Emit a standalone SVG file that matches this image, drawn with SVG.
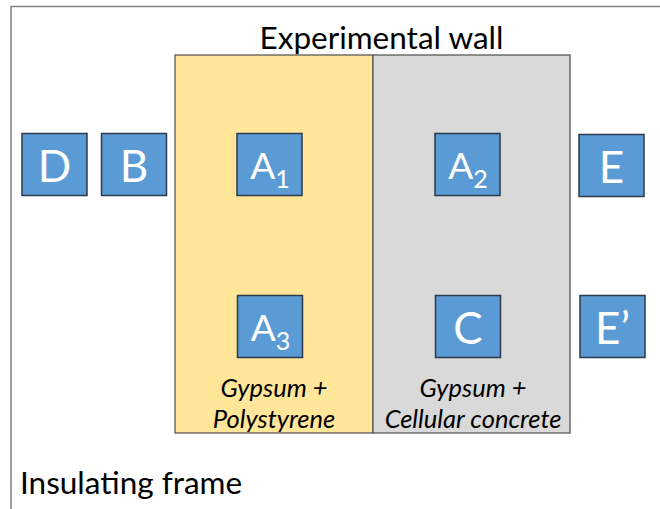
<svg xmlns="http://www.w3.org/2000/svg" width="660" height="509" viewBox="0 0 660 509">
<style>
.frame{fill:none;stroke:#7f7f7f;stroke-width:1.5}
.wall{stroke:#595959;stroke-width:1.3}
.box{fill:#5B9BD5;stroke:#2B3A4C;stroke-width:1.5}
.lbl{font-family:Lato,"Liberation Sans",sans-serif;fill:#ffffff;text-anchor:middle}
.big{font-size:44px}
.mid{font-size:37px}
.sub{font-size:25px}
.title{font-family:Lato,"Liberation Sans",sans-serif;fill:#000;font-size:31.5px}
.mat{font-family:Lato,"Liberation Sans",sans-serif;fill:#000;font-size:25.5px;font-style:italic;text-anchor:middle}
</style>
<rect class="frame" x="11" y="6.5" width="700" height="600"/>
<g id="wall">
<rect class="wall" x="175" y="55" width="198" height="378" fill="#FFE699"/>
<rect class="wall" x="373" y="55" width="197" height="378" fill="#D9D9D9"/>
<text class="title" x="381.5" y="49" text-anchor="middle">Experimental wall</text>
<text class="mat" x="274" y="397">Gypsum +</text>
<text class="mat" x="274" y="428">Polystyrene</text>
<text class="mat" x="473" y="397">Gypsum +</text>
<text class="mat" x="473" y="428">Cellular concrete</text>
</g>
<text class="title" x="20" y="494" style="font-size:31.5px">Insulating frame</text>
<g id="connectors"/>
<g id="D"><rect class="box" x="22" y="133.5" width="65" height="62"/><text class="lbl big" x="54.5" y="182">D</text></g>
<g id="B"><rect class="box" x="101.5" y="133.5" width="65" height="62"/><text class="lbl big" x="134" y="182">B</text></g>
<g id="A1"><rect class="box" x="237" y="133.5" width="65" height="62"/><text class="lbl mid" x="270" y="179">A<tspan class="sub" dy="9">1</tspan></text></g>
<g id="A2"><rect class="box" x="435" y="133.5" width="65" height="62"/><text class="lbl mid" x="468" y="179">A<tspan class="sub" dy="9">2</tspan></text></g>
<g id="E"><rect class="box" x="579" y="134.5" width="65" height="62"/><text class="lbl big" x="611.5" y="183">E</text></g>
<g id="A3"><rect class="box" x="237.5" y="295.5" width="65" height="62"/><text class="lbl mid" x="270.5" y="341">A<tspan class="sub" dy="9">3</tspan></text></g>
<g id="C"><rect class="box" x="435.5" y="295.5" width="65" height="62"/><text class="lbl big" x="468" y="344">C</text></g>
<g id="E2"><rect class="box" x="580" y="295.5" width="65" height="62"/><text class="lbl big" x="612.5" y="344">E’</text></g>
</svg>
